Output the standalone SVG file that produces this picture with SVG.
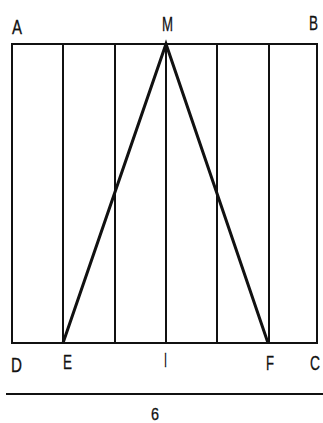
<svg xmlns="http://www.w3.org/2000/svg" width="323" height="423" viewBox="0 0 323 423">
<style>
.frame{fill:none;stroke:#111;stroke-width:2}
.tri{fill:none;stroke:#111;stroke-width:3;stroke-linejoin:miter}
.lbl{font-family:"Liberation Sans",Arial,sans-serif;font-size:20px;fill:#111;stroke:#111;stroke-width:0.3}
</style>
<rect width="323" height="423" fill="#fff"/>
<g id="square">
<rect class="frame" x="12" y="44" width="305" height="299"/>
</g>
<g id="connectors">
<line class="frame" x1="63" y1="44" x2="63" y2="343"/>
<line class="frame" x1="115" y1="44" x2="115" y2="343"/>
<line class="frame" x1="166" y1="44" x2="166" y2="343"/>
<line class="frame" x1="217" y1="44" x2="217" y2="343"/>
<line class="frame" x1="269" y1="44" x2="269" y2="343"/>
<polyline class="tri" points="63,343 166,44 268,343"/>
<line class="frame" x1="6" y1="394" x2="323" y2="394"/>
</g>
<g id="labels">
<text class="lbl" x="12" y="34" textLength="10" lengthAdjust="spacingAndGlyphs">A</text>
<text class="lbl" x="162" y="31" textLength="11" lengthAdjust="spacingAndGlyphs">M</text>
<text class="lbl" x="309" y="30" textLength="9" lengthAdjust="spacingAndGlyphs">B</text>
<text class="lbl" x="11" y="372" textLength="11" lengthAdjust="spacingAndGlyphs">D</text>
<text class="lbl" x="63" y="369" textLength="9" lengthAdjust="spacingAndGlyphs">E</text>
<text class="lbl" x="164" y="367" textLength="3" lengthAdjust="spacingAndGlyphs">I</text>
<text class="lbl" x="266" y="370" textLength="8" lengthAdjust="spacingAndGlyphs">F</text>
<text class="lbl" x="310" y="370" textLength="10" lengthAdjust="spacingAndGlyphs">C</text>
<text class="lbl" x="151" y="420" textLength="8" lengthAdjust="spacingAndGlyphs" style="font-size:17px">6</text>
</g>
</svg>
